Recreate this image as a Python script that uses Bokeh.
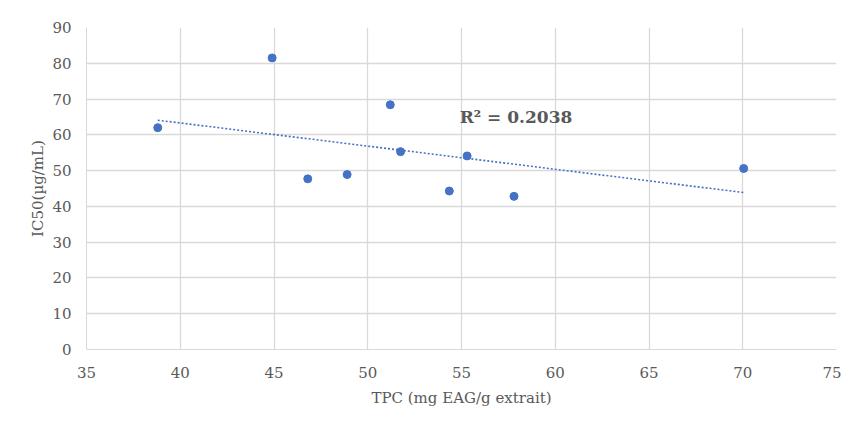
import numpy as np
from bokeh.plotting import figure
from bokeh.models import ColumnDataSource, FixedTicker, Label
from bokeh.embed import file_html
from bokeh.resources import INLINE

# Data
tpc = [38.8, 44.9, 46.8, 48.9, 51.2, 51.75, 54.35, 55.3, 57.8, 70.05]
ic50 = [62.0, 81.5, 47.7, 48.9, 68.4, 55.3, 44.3, 54.1, 42.8, 50.6]
r2_label = "R² = 0.2038"
x_ticks = [35, 40, 45, 50, 55, 60, 65, 70, 75]
y_ticks = [0, 10, 20, 30, 40, 50, 60, 70, 80, 90]

FONT = "DejaVu Serif"
GRAY = "#595959"
GRID = "#d9d9d9"
BLUE = "#4472C4"

p = figure(width=841, height=409, output_backend="svg", toolbar_location=None,
           x_range=(35, 75), y_range=(0, 90),
           min_border_left=86, min_border_right=5, min_border_top=27, min_border_bottom=59)
p.outline_line_color = None

src = ColumnDataSource(dict(x=tpc, y=ic50))
# trendline from least squares fit of the data
slope, intercept = np.polyfit(tpc, ic50, 1)
xs = [min(tpc), max(tpc)]
ys = [slope * v + intercept for v in xs]
p.line(xs, ys, line_color=BLUE, line_width=1.6, line_dash="2 2")
p.scatter("x", "y", source=src, size=8, color=BLUE)

p.add_layout(Label(x=54.9, y=65, text=r2_label, text_font=FONT, text_font_size="17px",
                   text_font_style="bold", text_color=GRAY, text_baseline="middle"))

for ax in (p.xaxis[0], p.yaxis[0]):
    ax.axis_line_color = GRID
    ax.major_tick_line_color = None
    ax.minor_tick_line_color = None
    ax.major_label_text_font = FONT
    ax.major_label_text_font_size = "15px"
    ax.major_label_text_color = GRAY
    ax.axis_label_text_font = FONT
    ax.axis_label_text_font_size = "15px"
    ax.axis_label_text_font_style = "normal"
    ax.axis_label_text_color = GRAY

p.xaxis.major_label_standoff = 11
p.yaxis.major_label_standoff = 9
p.xaxis.ticker = FixedTicker(ticks=x_ticks)
p.yaxis.ticker = FixedTicker(ticks=y_ticks)
p.xaxis.axis_label = "TPC (mg EAG/g extrait)"
p.yaxis.axis_label = "IC50(µg/mL)"
p.xaxis.axis_label_standoff = 8
p.yaxis.axis_label_standoff = 2

p.xgrid.ticker = FixedTicker(ticks=x_ticks)
p.ygrid.ticker = FixedTicker(ticks=y_ticks)
p.xgrid.grid_line_color = GRID
p.ygrid.grid_line_color = GRID
p.xgrid.grid_line_width = 1.3
p.ygrid.grid_line_width = 1.3

open("out.html", "w").write(file_html(p, INLINE))
